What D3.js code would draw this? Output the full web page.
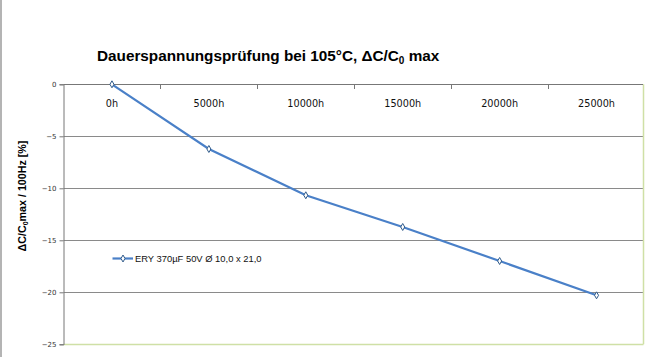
<!DOCTYPE html>
<html><head><meta charset="utf-8">
<script src="https://cdn.jsdelivr.net/npm/d3@7"></script>
<style>body{margin:0;background:#fff}svg{display:block}</style>
</head><body>
<svg id="c" width="649" height="357"></svg>
<script>
const categories = ["0h","5000h","10000h","15000h","20000h","25000h"];
const values = [0, -6.22, -10.67, -13.72, -16.99, -20.29];
const yTicks = [0, -5, -10, -15, -20, -25];
const seriesName = "ERY 370µF 50V Ø 10,0 x 21,0";

const svg = d3.select("#c");
const W = 649, H = 357;
const pLeft = 63.5, pRight = 643, pTop = 84.3, pBottom = 344.3;

const x = d3.scaleBand().domain(categories).range([pLeft, 645]).padding(0);
const y = d3.scaleLinear().domain([-25, 0]).range([pBottom, pTop]);

// left page border
svg.append("rect").attr("x",0).attr("y",0).attr("width",2).attr("height",H).attr("fill","#b4b4b4");

// gridlines
svg.append("g").selectAll("line").data(yTicks.filter(d=>d!==0 && d!==-25)).join("line")
  .attr("x1",pLeft).attr("x2",pRight).attr("y1",d=>Math.round(y(d))+0.5).attr("y2",d=>Math.round(y(d))+0.5)
  .attr("stroke","#8a8a8a").attr("stroke-width",1);

// bottom and right frame (green)
svg.append("line").attr("x1",pLeft).attr("x2",pRight+0.5).attr("y1",Math.round(pBottom)+0.5).attr("y2",Math.round(pBottom)+0.5)
  .attr("stroke","#cfe0a6").attr("stroke-width",1.5);
svg.append("line").attr("x1",pRight+0.5).attr("x2",pRight+0.5).attr("y1",pTop).attr("y2",pBottom)
  .attr("stroke","#cfe0a6").attr("stroke-width",1.5);

// y axis
const yAxis = d3.axisLeft(y).tickValues(yTicks).tickSize(4).tickPadding(3).tickFormat(d3.format("d"));
const gy = svg.append("g").attr("transform",`translate(${pLeft},0)`).call(yAxis);
gy.select(".domain").attr("stroke","#777");
gy.selectAll(".tick line").attr("stroke","#777");
gy.selectAll(".tick text").attr("font-family","'DejaVu Sans', sans-serif").attr("font-size","7px").attr("fill","#333");

// x axis on top line (value 0), labels below
const xAxis = d3.axisBottom(x).tickSize(0).tickPadding(0);
const gx = svg.append("g").attr("transform",`translate(0,${Math.round(y(0))+0.5})`).call(xAxis);
gx.select(".domain").remove();
gx.selectAll(".tick text").attr("dy","22px").attr("font-family","'DejaVu Sans', Verdana, sans-serif")
  .attr("font-size","9.7px").attr("fill","#111");
svg.append("line").attr("x1",pLeft).attr("x2",pRight).attr("y1",Math.round(y(0))+0.5).attr("y2",Math.round(y(0))+0.5)
  .attr("stroke","#777").attr("stroke-width",1);
// category boundary ticks
svg.append("g").selectAll("line").data(categories.slice(1)).join("line")
  .attr("x1",d=>Math.round(x(d))+0.5).attr("x2",d=>Math.round(x(d))+0.5)
  .attr("y1",Math.round(y(0))).attr("y2",Math.round(y(0))+5)
  .attr("stroke","#777");

// series line
const cx = d => x(d) + x.bandwidth()/2;
const line = d3.line().x((d,i)=>cx(categories[i])).y(d=>y(d));
svg.append("path").datum(values).attr("d",line).attr("fill","none")
  .attr("stroke","#4a80c8").attr("stroke-width",2.2);

const diamond = d3.symbol().type(d3.symbolDiamond).size(14);
svg.append("g").selectAll("path").data(values).join("path")
  .attr("d",diamond).attr("transform",(d,i)=>`translate(${cx(categories[i])},${y(d)})`)
  .attr("fill","#fff").attr("stroke","#2f5a8a").attr("stroke-width",1);

// legend
const lg = svg.append("g").attr("transform","translate(112.5,258.5)");
lg.append("line").attr("x1",0).attr("x2",20.5).attr("y1",0).attr("y2",0).attr("stroke","#4a80c8").attr("stroke-width",2.2);
lg.append("path").attr("d",diamond).attr("transform","translate(10.5,0)").attr("fill","#fff").attr("stroke","#2f5a8a");
lg.append("text").attr("x",22.5).attr("y",3.5).attr("font-family","'Liberation Sans', Arial, sans-serif")
  .attr("font-size","9.4px").attr("fill","#111").text(seriesName);

// title
const t = svg.append("text").attr("x",97).attr("y",61).attr("font-family","'Liberation Sans', Arial, sans-serif")
  .attr("font-weight","bold").attr("font-size","15.3px").attr("fill","#000");
t.append("tspan").text("Dauerspannungsprüfung bei 105°C, ΔC/C");
t.append("tspan").attr("font-size","10px").attr("dy","3").text("0");
t.append("tspan").attr("dy","-3").text(" max");

// y axis title
const yt = svg.append("text").attr("transform","translate(26,196) rotate(-90)").attr("text-anchor","middle")
  .attr("font-family","'Liberation Sans', Arial, sans-serif").attr("font-weight","bold").attr("font-size","10.7px").attr("fill","#000");
yt.append("tspan").text("ΔC/C");
yt.append("tspan").attr("font-size","7px").attr("dy","2").text("0");
yt.append("tspan").attr("dy","-2").text("max / 100Hz [%]");
</script>
</body></html>
